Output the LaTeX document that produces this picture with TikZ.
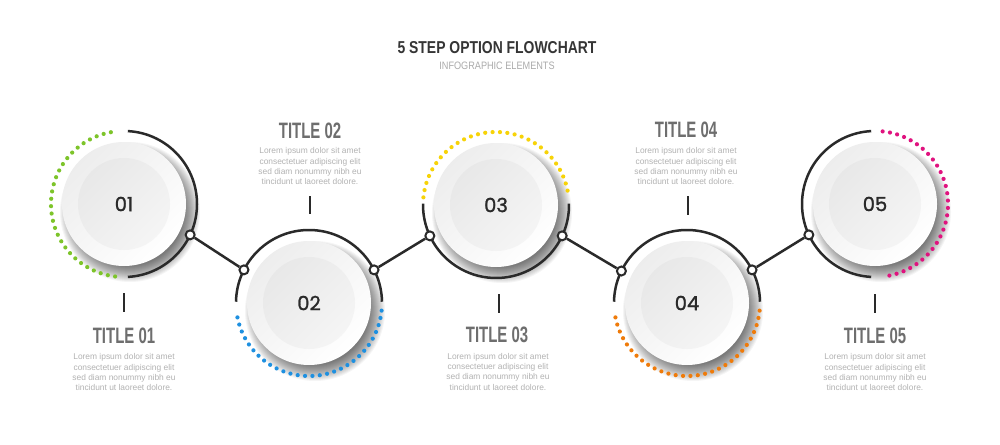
\documentclass[tikz,border=0pt]{standalone}
\usepackage{fontspec}
\setmainfont{Liberation Sans}
\newfontfamily\titlefont[FakeStretch=0.67]{Liberation Sans}
\newfontfamily\headfont[FakeStretch=0.81]{Liberation Sans}
\newfontfamily\subfont[FakeStretch=0.85]{Liberation Sans}
\newfontfamily\numfont[FakeBold=1.3]{Poppins}
\definecolor{ink}{HTML}{2A2A2A}
\definecolor{titlegray}{HTML}{6E6E6E}
\definecolor{loremgray}{HTML}{B2B2B2}
\definecolor{subgray}{HTML}{ABABAB}
\definecolor{cgreen}{HTML}{7DC42A}
\definecolor{cblue}{HTML}{1E90E0}
\definecolor{cyellow}{HTML}{F7D308}
\definecolor{corange}{HTML}{EF7B0A}
\definecolor{cmag}{HTML}{E0137F}
\begin{document}
\begin{tikzpicture}[x=1pt,y=-1pt,
  ring/.style={draw=ink, line width=2.5pt},
  dots/.style={line width=4.2pt, line cap=round, dash pattern=on 0pt off 7.4pt},
  jdot/.style={circle, draw=ink, line width=2pt, fill=white, minimum size=9pt, inner sep=0pt},
  link/.style={draw=ink, line width=2.5pt},
  tickline/.style={draw=ink, line width=2.5pt},
  num/.style={font=\numfont\fontsize{19.5}{19.5}\selectfont, text=ink, inner sep=0pt},
  ttl/.style={font=\titlefont\bfseries\fontsize{22.3}{22.3}\selectfont, text=titlegray, inner sep=0pt},
  lorem/.style={font=\fontsize{8.4}{10.3}\selectfont, text=loremgray, align=center, inner sep=0pt, anchor=north}]
\useasboundingbox (0,0) rectangle (1000,444);
\fill[white] (0,0) rectangle (1000,444);

% header
\node[font=\headfont\bfseries\fontsize{17.2}{17.2}\selectfont, text=ink!95, inner sep=0pt] (head) at (497,48) {5 STEP OPTION FLOWCHART};
\node[font=\subfont\fontsize{10.75}{10.75}\selectfont, text=subgray, inner sep=0pt] (sub) at (497,65.5) {INFOGRAPHIC ELEMENTS};

% disks with shadows
\foreach \n/\cx/\cy in {1/124/204,2/309/303,3/496/205,4/687/303,5/875/204} {
  \coordinate (c\n) at (\cx,\cy);
  \foreach \r in {54,...,70} \fill[black, opacity=0.04] (\cx+6,\cy+8) circle[radius=\r];
  \shade[top color=black!7, bottom color=white, shading angle=45] (\cx,\cy) circle[radius=62];
  \shade[top color=black!9, bottom color=black!4, shading angle=45] (\cx,\cy) circle[radius=46];
}

% rings
\foreach \n/\sa/\sb/\da/\db/\col in {1/-87/87/97/263/cgreen, 2/181/359/6/174/cblue, 3/-1/181/186/354/cyellow, 4/181/359/6/174/corange, 5/93/267/-84/84/cmag} {
  \draw[ring] (c\n) ++(\sa:73) arc[start angle=\sa, end angle=\sb, radius=73];
  \draw[dots, draw=\col] (c\n) ++(\da:73) arc[start angle=\da, end angle=\db, radius=73];
}

% numbers
\foreach \n in {1,...,5} \node[num] (n\n) at (c\n) {0\n};

% joints
\path (c1) ++(25:73) node[jdot] (j1) {};
\path (c2) ++(207:73) node[jdot] (j2) {};
\path (c2) ++(-27:73) node[jdot] (j3) {};
\path (c3) ++(155:73) node[jdot] (j4) {};
\path (c3) ++(25:73) node[jdot] (j5) {};
\path (c4) ++(206:73) node[jdot] (j6) {};
\path (c4) ++(-27:73) node[jdot] (j7) {};
\path (c5) ++(155:73) node[jdot] (j8) {};
\draw[link] (j1) -- (j2);
\draw[link] (j3) -- (j4);
\draw[link] (j5) -- (j6);
\draw[link] (j7) -- (j8);

% ticks
\coordinate (t1a) at (124,293); \coordinate (t1b) at (124,312);
\coordinate (t2a) at (310,196); \coordinate (t2b) at (310,214);
\coordinate (t3a) at (499,294); \coordinate (t3b) at (499,313);
\coordinate (t4a) at (688,196); \coordinate (t4b) at (688,215);
\coordinate (t5a) at (875,294); \coordinate (t5b) at (875,313);
\foreach \n in {1,...,5} \draw[tickline] (t\n a) -- (t\n b);

% titles
\node[ttl] (T1) at (124,336) {TITLE 01};
\node[ttl] (T2) at (310,130.5) {TITLE 02};
\node[ttl] (T3) at (497,335) {TITLE 03};
\node[ttl] (T4) at (686,129.5) {TITLE 04};
\node[ttl] (T5) at (875,336) {TITLE 05};

% descriptions
\node[lorem] (d1) at (124,353.5) {Lorem ipsum dolor sit amet\\consectetuer adipiscing elit\\sed diam nonummy nibh eu\\tincidunt ut laoreet dolore.};
\node[lorem] (d2) at (310,147.5) {Lorem ipsum dolor sit amet\\consectetuer adipiscing elit\\sed diam nonummy nibh eu\\tincidunt ut laoreet dolore.};
\node[lorem] (d3) at (498,353) {Lorem ipsum dolor sit amet\\consectetuer adipiscing elit\\sed diam nonummy nibh eu\\tincidunt ut laoreet dolore.};
\node[lorem] (d4) at (686,147.5) {Lorem ipsum dolor sit amet\\consectetuer adipiscing elit\\sed diam nonummy nibh eu\\tincidunt ut laoreet dolore.};
\node[lorem] (d5) at (875,353.5) {Lorem ipsum dolor sit amet\\consectetuer adipiscing elit\\sed diam nonummy nibh eu\\tincidunt ut laoreet dolore.};
\end{tikzpicture}
\end{document}
